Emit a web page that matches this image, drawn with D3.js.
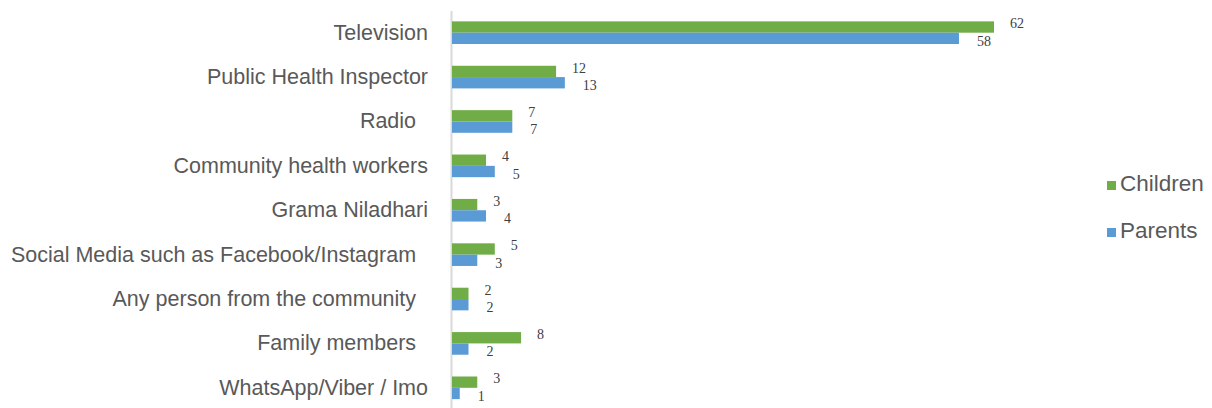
<!DOCTYPE html>
<html>
<head>
<meta charset="utf-8">
<script src="https://cdn.jsdelivr.net/npm/d3@7/dist/d3.min.js"></script>
<style>
  html, body { margin: 0; padding: 0; background: #fff; }
  svg { display: block; }
  .cat text { font-family: "Liberation Sans", Arial, sans-serif; font-size: 21.5px; fill: #595959; white-space: pre; }
  .val { font-family: "Liberation Serif", "Times New Roman", serif; font-size: 14px; fill: #404040; }
  .legend text { font-family: "Liberation Sans", Arial, sans-serif; font-size: 22.5px; fill: #595959; }
</style>
</head>
<body>
<svg id="chart" width="1212" height="408"></svg>
<script>
// Sources of information, by respondent group
const categories = [
  "Television",
  "Public Health Inspector",
  "Radio  ",
  "Community health workers",
  "Grama Niladhari",
  "Social Media such as Facebook/Instagram  ",
  "Any person from the community  ",
  "Family members  ",
  "WhatsApp/Viber / Imo"
];
const childrenValues = [62, 12, 7, 4, 3, 5, 2, 8, 3];
const parentsValues  = [58, 13, 7, 5, 4, 3, 2, 2, 1];
const seriesNames = ["Children", "Parents"];
const seriesColors = ["#70ad47", "#5b9bd5"];

const series = [childrenValues, parentsValues];

const svg = d3.select("#chart");

const x = d3.scaleLinear().domain([0, 62]).range([451, 994]);
const y = d3.scaleBand().domain(categories).range([10.5, 410])
  .paddingInner(0.49).paddingOuter(0.245);
const ySub = d3.scaleBand().domain(seriesNames).range([0, y.bandwidth()]);

// category axis
const axis = svg.append("g").attr("class", "cat")
  .attr("transform", `translate(${x(0)},0)`)
  .call(d3.axisLeft(y).tickSize(0).tickPadding(23));
axis.select(".domain").attr("stroke", "#d9d9d9").attr("stroke-width", 2);
axis.attr("font-family", null).attr("font-size", null);

// bars
const groups = svg.append("g").selectAll("g")
  .data(categories)
  .join("g")
  .attr("transform", d => `translate(0,${y(d)})`);

seriesNames.forEach((name, si) => {
  groups.append("rect")
    .attr("x", x(0) + 1)
    .attr("y", ySub(name))
    .attr("width", (d, i) => x(series[si][i]) - x(0) - 1)
    .attr("height", ySub.bandwidth())
    .attr("fill", seriesColors[si]);
});

// value labels
seriesNames.forEach((name, si) => {
  groups.append("text")
    .attr("class", "val")
    .attr("x", (d, i) => x(series[si][i]) + (si === 0 ? 16 : 18))
    .attr("y", ySub(name) + ySub.bandwidth() / 2 + (si === 0 ? -2 : 4))
    .attr("dominant-baseline", "middle")
    .text((d, i) => series[si][i]);
});

// legend
const legend = svg.append("g").attr("class", "legend")
  .selectAll("g").data(seriesNames).join("g")
  .attr("transform", (d, i) => `translate(1107,${185 + i * 47})`);
legend.append("rect")
  .attr("x", 0).attr("y", -4).attr("width", 9).attr("height", 9)
  .attr("fill", (d, i) => seriesColors[i]);
legend.append("text")
  .attr("x", 13).attr("y", 0)
  .attr("dominant-baseline", "middle")
  .text(d => d);
</script>
</body>
</html>
